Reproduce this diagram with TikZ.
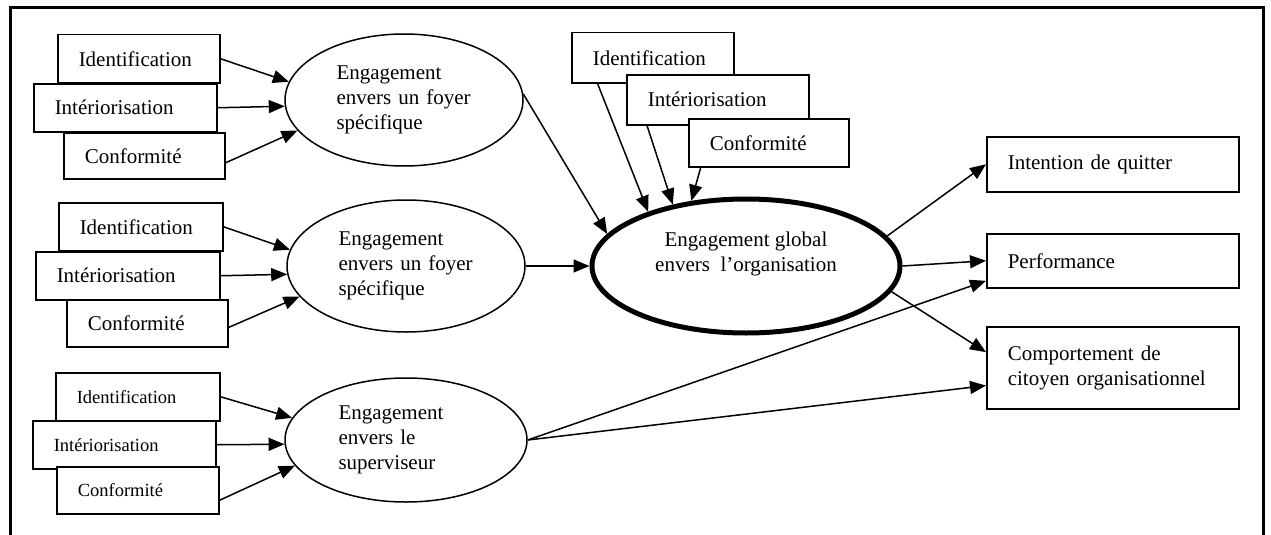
\documentclass[tikz,border=0pt]{standalone}
\usepackage{fontspec}
\setmainfont{Liberation Serif}
\usetikzlibrary{arrows.meta,shapes.geometric}
\begin{document}
\begin{tikzpicture}[x=1pt,y=-1pt,
  font=\fontsize{21}{25}\selectfont,
  srcbox/.style={draw, line width=1.5pt, fill=white, inner xsep=21pt, inner ysep=0pt,
                 align=left, anchor=north west},
  smalltxt/.style={font=\fontsize{18.5}{22}\selectfont},
  focus/.style={draw, ellipse, line width=1.5pt, inner sep=0pt, minimum width=238pt,
                minimum height=132pt, text width=135pt, align=left},
  link/.style={line width=1.5pt, -{Triangle[length=16pt,width=13pt]}},
]
\useasboundingbox (0,0) rectangle (1271,535);

% open frame
\draw[line width=3pt] (10,535) -- (10,8) -- (1263,8) -- (1263,535);

% first specific focus
\node[srcbox, text width=120pt, minimum height=48pt] (a1) at (57,34) {Identification};
\node[srcbox, text width=141pt, minimum height=48pt] (a2) at (33,83) {Intériorisation};
\node[srcbox, text width=119pt, minimum height=46pt] (a3) at (63,132) {Conformité};
\node[focus, minimum width=238pt] (e1) at (404,100) {Engagement\\envers un foyer\\spécifique};

% second specific focus
\node[srcbox, text width=122pt, minimum height=48pt] (b1) at (58,202) {Identification};
\node[srcbox, text width=142pt, minimum height=48pt] (b2) at (35,251) {Intériorisation};
\node[srcbox, text width=119pt, minimum height=47pt] (b3) at (66,299) {Conformité};
\node[focus] (e2) at (406,266) {Engagement\\envers un foyer\\spécifique};

% supervisor
\node[srcbox, smalltxt, text width=122pt, minimum height=48pt] (c1) at (55,372) {Identification};
\node[srcbox, smalltxt, text width=141pt, minimum height=48pt] (c2) at (32,420) {Intériorisation};
\node[srcbox, smalltxt, text width=120pt, minimum height=47pt] (c3) at (56,466) {Conformité};
\node[focus, minimum width=242pt, minimum height=124pt] (e3) at (406,440) {Engagement\\envers le\\superviseur};

% global commitment
\node[draw, ellipse, line width=5pt, inner sep=0pt, minimum width=308pt,
      minimum height=134pt] (G) at (746,266) {};
\node[align=center] (Gt) at (746,254) {Engagement global\\envers\ \ l’organisation};

\node[srcbox, text width=120pt, minimum height=50pt] (ti) at (571,32) {Identification};
\node[srcbox, text width=140pt, minimum height=50pt] (tn) at (626,74) {Intériorisation};
\node[srcbox, text width=118pt, minimum height=48pt] (tc) at (688,118) {Conformité};

% outcomes
\node[srcbox, text width=210pt, minimum height=55pt] (qi) at (986,136) {Intention de quitter};
\node[srcbox, text width=210pt, minimum height=54pt] (pf) at (986,233) {Performance};
\node[srcbox, text width=210pt, minimum height=82pt] (co) at (986,326) {Comportement de\\citoyen organisationnel};

% links into the specific foci
\draw[link] (a1.east) -- (e1.171);
\draw[link] (a2.east) -- (e1.183);
\draw[link] (a3.-5) -- (e1.196);
\draw[link] (b1.east) -- (e2.172);
\draw[link] (b2.east) -- (e2.184);
\draw[link] (b3.-3) -- (e2.196);
\draw[link] (c1.east) -- (e3.169);
\draw[link] (c2.east) -- (e3.182);
\draw[link] (c3.-7) -- (e3.193.5);

% links into the global commitment
\draw[link] (ti.205) -- (G.151);
\draw[link] (tn.200.5) -- (G.140.3);
\draw[link] (tc.200.9) -- (G.130.4);
\draw[link] (e1.3) -- (G.167);
\draw[link] (e2.east) -- (G.west);

% links to the outcomes
\draw[link] (G.12) -- (qi.west);
\draw[link] (G.east) -- (pf.west);
\draw[link] (G.-10) -- (co.173.7);
\draw[link] (e3.east) -- (pf.189.5);
\draw[link] (e3.east) -- (co.188.1);
\end{tikzpicture}
\end{document}
